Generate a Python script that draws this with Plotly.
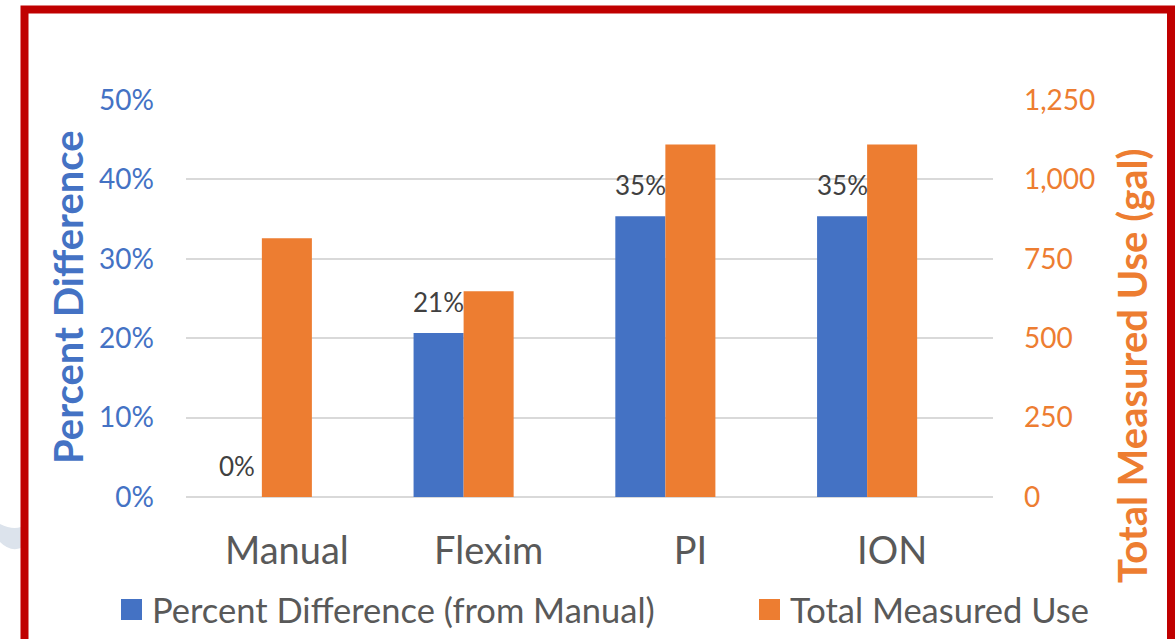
import plotly.graph_objects as go

categories = ["Manual", "Flexim", "PI", "ION"]
pct_diff = [0.0, 0.2065, 0.3535, 0.3535]
total_use = [815, 648, 1110, 1110]
pct_labels = ["0%", "21%", "35%", "35%"]
legend_names = ["Percent Difference (from Manual)", "Total Measured Use"]

BLUE = "#4472C4"
ORANGE = "#ED7D31"
GRAY = "#595959"
FONT = "Lato"

W, H = 1176, 639
L, R, T, B = 186, 993, 100, 497
pw, ph = R - L, B - T

def px(x):
    return (x - L) / pw

def py(y):
    return (B - y) / ph

BAR_W = 0.248  # width of one bar in category units

fig = go.Figure()
fig.add_trace(go.Bar(
    x=categories, y=pct_diff, name=legend_names[0],
    marker=dict(color=BLUE, line=dict(width=0)), yaxis="y",
    width=BAR_W, offset=-1.5 * BAR_W,
))
fig.add_trace(go.Bar(
    x=categories, y=total_use, name=legend_names[1],
    marker=dict(color=ORANGE, line=dict(width=0)), yaxis="y2",
    width=BAR_W, offset=-0.5 * BAR_W,
))

annotations = []
for c, v, t in zip(categories, pct_diff, pct_labels):
    annotations.append(dict(x=c, y=v, xref="x", yref="y", text=t, showarrow=False,
                            xshift=-50, yshift=13, xanchor="center", yanchor="bottom",
                            font=dict(size=26, color="#404040", family=FONT)))

annotations += [
    dict(text="<b>Percent Difference</b>", x=px(68), y=py(297), xref="paper", yref="paper",
         textangle=-90, showarrow=False, font=dict(size=40, color=BLUE, family=FONT),
         xanchor="center", yanchor="middle"),
    dict(text="<b>Total Measured Use (gal)</b>", x=px(1132), y=py(366), xref="paper", yref="paper",
         textangle=-90, showarrow=False, font=dict(size=40, color=ORANGE, family=FONT),
         xanchor="center", yanchor="middle"),
    dict(text=legend_names[0], x=px(150), y=py(609), xref="paper", yref="paper",
         showarrow=False, xanchor="left", yanchor="middle",
         font=dict(size=34.5, color=GRAY, family=FONT)),
    dict(text=legend_names[1], x=px(788), y=py(609), xref="paper", yref="paper",
         showarrow=False, xanchor="left", yanchor="middle",
         font=dict(size=34.5, color=GRAY, family=FONT)),
]

shapes = [
    dict(type="path", xref="paper", yref="paper",
         path=f"M {px(0)},{py(524)} Q {px(12)},{py(530)} {px(21)},{py(527)} L {px(21)},{py(548)} Q {px(10)},{py(552)} {px(0)},{py(542)} Z",
         fillcolor="#DCE3EC", line=dict(width=0), layer="below"),
    dict(type="rect", xref="paper", yref="paper", x0=px(121), x1=px(142), y0=py(620), y1=py(599),
         fillcolor=BLUE, line=dict(width=0)),
    dict(type="rect", xref="paper", yref="paper", x0=px(759), x1=px(780), y0=py(620), y1=py(599),
         fillcolor=ORANGE, line=dict(width=0)),
    dict(type="rect", xref="paper", yref="paper", x0=px(24.5), x1=px(1171), y0=py(700), y1=py(9.5),
         line=dict(color="#C00000", width=8), layer="above"),
]

fig.update_layout(
    width=W, height=H,
    margin=dict(l=L, r=W - R, t=T, b=H - B, autoexpand=False),
    paper_bgcolor="white", plot_bgcolor="white",
    barmode="overlay",
    font=dict(family=FONT, color=GRAY),
    showlegend=False,
    xaxis=dict(tickfont=dict(size=38, color=GRAY), showgrid=False, ticks="",
               showline=False, ticklabelstandoff=28),
    yaxis=dict(range=[0, 0.5], dtick=0.1, tickformat=".0%",
               tickfont=dict(size=28, color=BLUE), gridcolor="#D9D9D9", gridwidth=1.5,
               zeroline=True, zerolinecolor="#D9D9D9", zerolinewidth=1.5,
               ticks="", ticklabelstandoff=31, showline=False),
    yaxis2=dict(range=[0, 1250], dtick=250, tickformat=",", overlaying="y", side="right",
                tickfont=dict(size=28, color=ORANGE), showgrid=False, zeroline=False,
                ticks="", ticklabelstandoff=30, showline=False),
    annotations=annotations,
    shapes=shapes,
)

fig.write_html("out.html", config={"displayModeBar": False},
               post_script="document.body.style.margin='0';document.body.style.overflow='hidden';")
